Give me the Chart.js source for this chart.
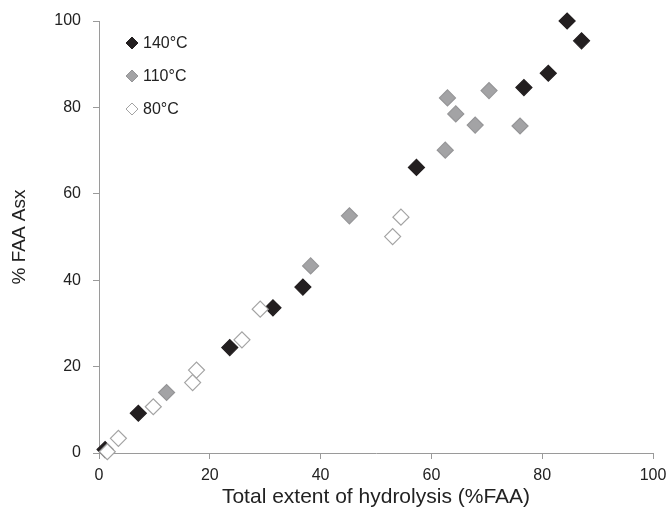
<!DOCTYPE html>
<html>
<head>
<meta charset="utf-8">
<script src="https://cdn.jsdelivr.net/npm/chart.js@4.4.1/dist/chart.umd.min.js"></script>
<style>
  html, body { margin: 0; padding: 0; background: #fff; }
  #wrap { width: 668px; height: 529px; }
</style>
</head>
<body>
<div id="wrap"><canvas id="c" width="668" height="529"></canvas></div>
<script>
// ---------------------------------------------------------------------------
// DATA
// ---------------------------------------------------------------------------
const seriesLabels = ['140°C', '110°C', '80°C'];

const hydrolysis140 = [1.1, 7.1, 23.6, 31.4, 36.8, 57.3, 76.7, 81.1, 84.5, 87.1];
const asx140        = [0.8, 9.2, 24.4, 33.6, 38.4, 66.1, 84.6, 87.9, 100, 95.4];

const hydrolysis110 = [12.2, 38.2, 45.2, 62.5, 62.9, 64.4, 67.9, 70.4, 76.0];
const asx110        = [14.0, 43.3, 54.9, 70.1, 82.2, 78.5, 75.9, 83.9, 75.7];

const hydrolysis80  = [1.5, 3.5, 9.8, 16.9, 17.6, 25.8, 29.1, 53.0, 54.5];
const asx80         = [0.3, 3.4, 10.7, 16.3, 19.2, 26.2, 33.3, 50.1, 54.6];

const xTickValues = [0, 20, 40, 60, 80, 100];
const yTickValues = [0, 20, 40, 60, 80, 100];

const xTitle = 'Total extent of hydrolysis (%FAA)';
const yTitle = '% FAA Asx';

// ---------------------------------------------------------------------------
// helpers
// ---------------------------------------------------------------------------
const toPoints = (xs, ys) => xs.map((x, i) => ({ x, y: ys[i] }));

const styles = [
  { fill: '#231f20', stroke: '#231f20' },
  { fill: '#a3a3a5', stroke: '#959597' },
  { fill: '#ffffff', stroke: '#a3a3a3' }
];

const FONT = '"Liberation Sans", Arial, sans-serif';
const AXIS_COLOR = '#9a9a9a';

// legend drawn inside the plot, upper left
const insideLegend = {
  id: 'insideLegend',
  afterDraw(chart) {
    const ctx = chart.ctx;
    const x0 = 132, y0 = 43, gap = 33;
    ctx.save();
    ctx.font = '16px ' + FONT;
    ctx.textBaseline = 'middle';
    seriesLabels.forEach((label, i) => {
      const y = y0 + i * gap;
      const r = 6;
      ctx.beginPath();
      ctx.moveTo(x0, y - r);
      ctx.lineTo(x0 + r, y);
      ctx.lineTo(x0, y + r);
      ctx.lineTo(x0 - r, y);
      ctx.closePath();
      ctx.fillStyle = styles[i].fill;
      ctx.fill();
      ctx.lineWidth = 1;
      ctx.strokeStyle = styles[i].stroke;
      ctx.stroke();
      ctx.fillStyle = '#222';
      ctx.fillText(label, x0 + 11, y + 1);
    });
    ctx.restore();
  }
};

const datasets = [
  { data: toPoints(hydrolysis140, asx140), order: 2 },
  { data: toPoints(hydrolysis110, asx110), order: 1 },
  { data: toPoints(hydrolysis80, asx80),   order: 0 }
].map((d, i) => ({
  label: seriesLabels[i],
  data: d.data,
  order: d.order,
  clip: false,
  pointStyle: 'rectRot',
  pointRadius: 8,
  pointHoverRadius: 8,
  pointBackgroundColor: styles[i].fill,
  pointBorderColor: styles[i].stroke,
  pointBorderWidth: 1.2,
  showLine: false
}));

new Chart(document.getElementById('c'), {
  type: 'scatter',
  data: { datasets },
  plugins: [insideLegend],
  options: {
    responsive: false,
    animation: false,
    devicePixelRatio: 1,
    layout: { padding: { left: 0, right: 15, top: 21, bottom: 0 } },
    plugins: {
      legend: { display: false },
      tooltip: { enabled: false }
    },
    scales: {
      x: {
        type: 'linear',
        min: 0,
        max: 100,
        afterBuildTicks: s => { s.ticks = xTickValues.map(v => ({ value: v })); },
        afterFit: s => { s.height = 76; s.paddingLeft = 0; s.paddingRight = 0; },
        grid: { drawOnChartArea: false, drawTicks: true, tickLength: 6, color: AXIS_COLOR },
        border: { color: AXIS_COLOR, width: 1 },
        ticks: { color: '#222', font: { family: FONT, size: 16 }, padding: 7, maxRotation: 0 },
        title: {
          display: true,
          text: xTitle,
          color: '#222',
          font: { family: FONT, size: 21 },
          padding: { top: 10, bottom: 19 }
        }
      },
      y: {
        type: 'linear',
        min: 0,
        max: 100,
        afterBuildTicks: s => { s.ticks = yTickValues.map(v => ({ value: v })); },
        afterFit: s => { s.width = 99; s.paddingTop = 0; s.paddingBottom = 0; },
        grid: { drawOnChartArea: false, drawTicks: true, tickLength: 6, color: AXIS_COLOR },
        border: { color: AXIS_COLOR, width: 1 },
        ticks: { color: '#222', font: { family: FONT, size: 16 }, padding: 12 },
        title: {
          display: true,
          text: yTitle,
          color: '#222',
          font: { family: FONT, size: 19 },
          padding: { top: 8, bottom: 0 }
        }
      }
    }
  }
});
</script>
</body>
</html>
